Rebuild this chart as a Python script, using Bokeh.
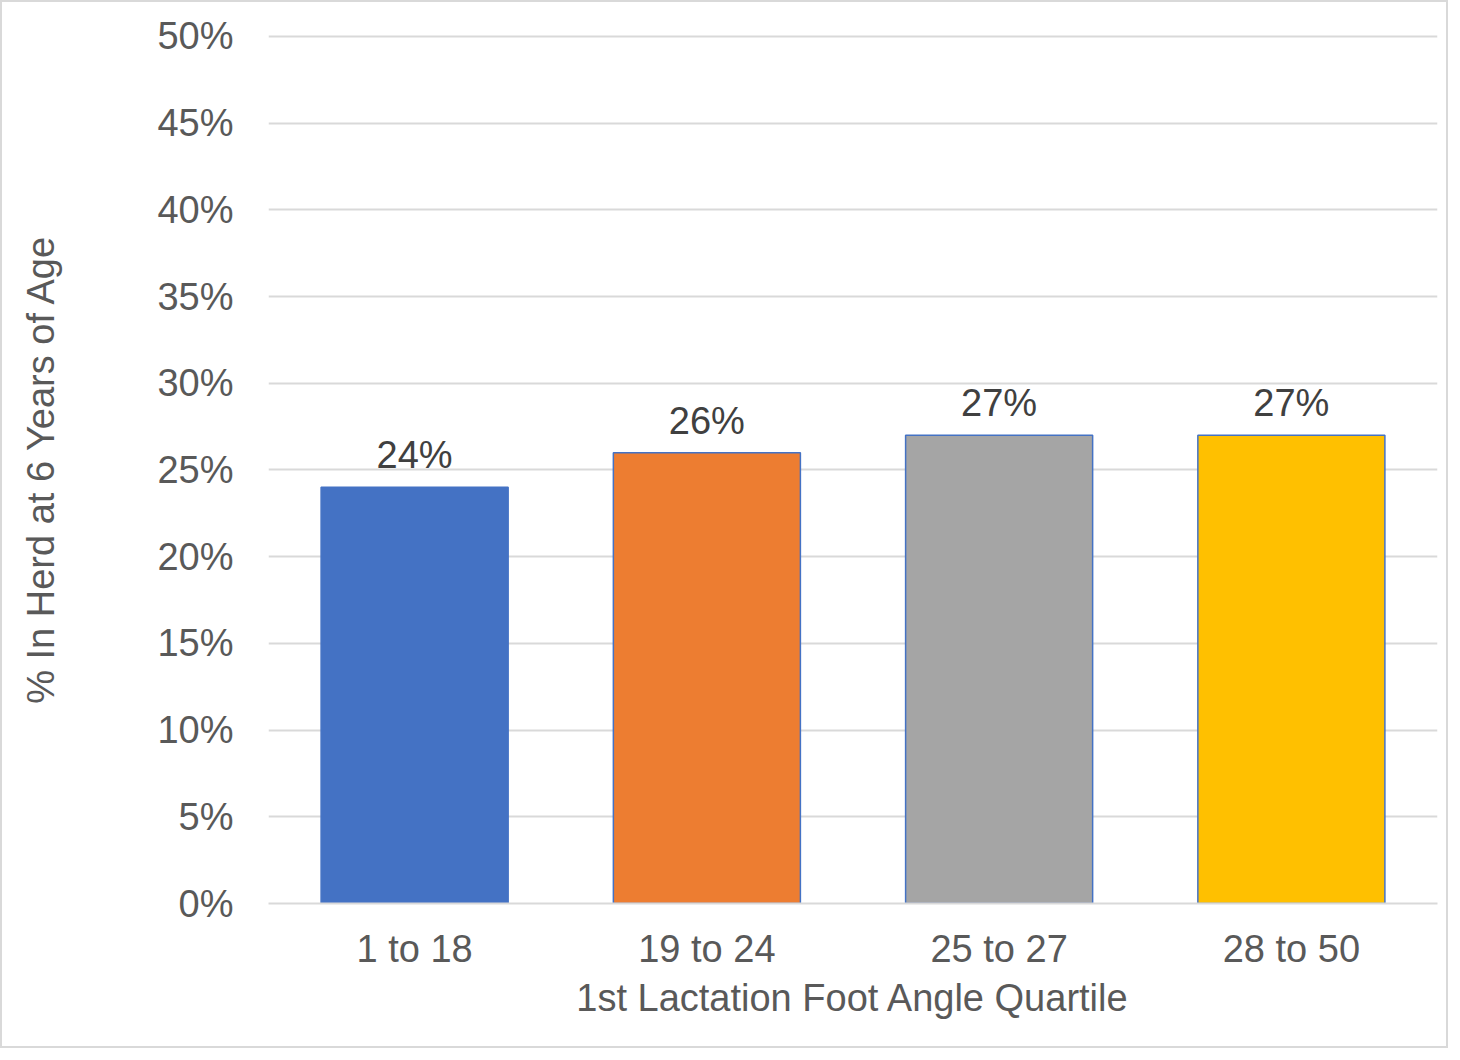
from bokeh.plotting import figure
from bokeh.models import ColumnDataSource, FixedTicker, NumeralTickFormatter, FactorRange
from bokeh.core.properties import value
from bokeh.embed import file_html
from bokeh.resources import INLINE

categories = ["1 to 18", "19 to 24", "25 to 27", "28 to 50"]
values = [0.24, 0.26, 0.27, 0.27]
labels = ["24%", "26%", "27%", "27%"]
colors = ["#4472C4", "#ED7D31", "#A5A5A5", "#FFC000"]
y_ticks = [0, 0.05, 0.10, 0.15, 0.20, 0.25, 0.30, 0.35, 0.40, 0.45, 0.50]

FONT = "Liberation Sans"

src = ColumnDataSource(dict(cat=categories, val=values, lab=labels, col=colors))

p = figure(x_range=FactorRange(*categories, range_padding=0), y_range=(0, 0.50115),
           frame_width=1169, frame_height=869,
           min_border_left=266, min_border_top=32, min_border_right=9, min_border_bottom=143,
           output_backend="svg", toolbar_location=None)
p.outline_line_color = None
p.background_fill_color = "white"
p.border_fill_color = "white"

p.vbar(x="cat", top="val", width=0.64, source=src, fill_color="col",
       line_color="#4472C4", line_width=1.5)
p.text(x="cat", y="val", text="lab", source=src, text_align="center",
       text_baseline="bottom", y_offset=-11, text_font=value(FONT),
       text_font_size="38px", text_color="#404040")

p.yaxis.ticker = FixedTicker(ticks=y_ticks)
p.yaxis.formatter = NumeralTickFormatter(format="0%")
p.ygrid.grid_line_color = "#D9D9D9"
p.ygrid.grid_line_width = 2
p.xgrid.grid_line_color = None

for ax in (p.xaxis, p.yaxis):
    ax.axis_line_color = None
    ax.major_tick_line_color = None
    ax.minor_tick_line_color = None
    ax.major_label_text_font = FONT
    ax.major_label_text_font_size = "38px"
    ax.major_label_text_color = "#595959"
    ax.axis_label_text_font = FONT
    ax.axis_label_text_font_size = "38px"
    ax.axis_label_text_color = "#595959"
    ax.axis_label_text_font_style = "normal"

p.xaxis.axis_line_color = "#D9D9D9"
p.xaxis.axis_line_width = 2
p.yaxis.major_label_standoff = 29
p.xaxis.major_label_standoff = 18
p.yaxis.axis_label = "% In Herd at 6 Years of Age"
p.xaxis.axis_label = "1st Lactation Foot Angle Quartile"
p.yaxis.axis_label_standoff = 92
p.xaxis.axis_label_standoff = 4

p.styles = {"border": "2px solid #D9D9D9", "box-sizing": "border-box"}

open("out.html", "w").write(file_html(p, INLINE))
